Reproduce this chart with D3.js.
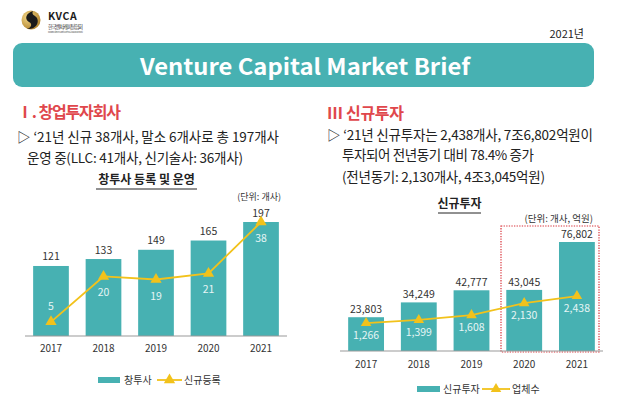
<!DOCTYPE html>
<html><head><meta charset="utf-8">
<script src="https://cdn.jsdelivr.net/npm/d3@7"></script>
<style>html,body{margin:0;padding:0;background:#fff}svg{display:block}text{font-family:"Noto Sans CJK KR","Noto Sans",sans-serif}</style>
</head><body><svg id="c" width="630" height="404"></svg>
<script>
const years = ["2017","2018","2019","2020","2021"];
const vcTotal = [121,133,149,165,197];
const vcNew = [5,20,19,21,38];
const invAmount = [23803,34249,42777,43045,76802];
const invCount = [1266,1399,1608,2130,2438];

const teal = "#47b1b2", yellow = "#f2c21b", red = "#e0474c", dark = "#222";
const svg = d3.select("#c");
svg.append("rect").attr("width",630).attr("height",404).attr("fill","#fff");

// ---- Header ----
const defs = svg.append("defs");
const g1 = defs.append("radialGradient").attr("id","gold").attr("cx","35%").attr("cy","35%").attr("r","70%");
g1.append("stop").attr("offset","0%").attr("stop-color","#f3d88a");
g1.append("stop").attr("offset","100%").attr("stop-color","#b2852e");
svg.append("circle").attr("cx",31).attr("cy",20).attr("r",9.5).attr("fill","url(#gold)");
svg.append("path").attr("d","M33,11 C26,13 24,19 29,22 C33,24 31,28 27,29 C34,30 40,24 37,18 C35,15 31,15 33,11 Z").attr("fill","#1a1a1a");
svg.append("text").attr("x",48).attr("y",20).attr("font-size",10.5).attr("font-weight",700).attr("fill","#1c1c1c").attr("letter-spacing",0.6).text("KVCA");
svg.append("text").attr("x",48).attr("y",28.5).attr("font-size",5.2).attr("fill","#333").attr("textLength",35).text("한국벤처캐피탈협회");
svg.append("text").attr("x",48).attr("y",32.5).attr("font-size",2.6).attr("fill","#666").attr("textLength",35).text("KOREA VENTURE CAPITAL ASSOCIATION");

svg.append("text").attr("x",584).attr("y",38).attr("text-anchor","end").attr("font-size",11).attr("fill",dark).text("2021년");
svg.append("rect").attr("x",13).attr("y",43).attr("width",581).attr("height",44).attr("rx",9).attr("fill",teal);
svg.append("text").attr("x",305).attr("y",74.5).attr("text-anchor","middle").attr("font-size",22).attr("font-weight",700)
  .attr("fill","#fff").attr("textLength",330).attr("lengthAdjust","spacingAndGlyphs").attr("font-family","'Noto Sans',sans-serif").text("Venture Capital Market Brief");

// ---- Section texts ----
function txt(x,y,s,opt={}){
  const t = svg.append("text").attr("x",x).attr("y",y).attr("font-size",opt.fs||14).attr("fill",opt.fill||dark)
    .attr("font-weight",opt.fw||400).attr("text-anchor",opt.anchor||"start").text(s);
  if(opt.len) t.attr("textLength",opt.len).attr("lengthAdjust","spacing");
  return t;
}
txt(17,118,"Ⅰ. 창업투자회사",{fs:16,fw:700,fill:red,len:104});
txt(17,142,"▷ ‘21년 신규 38개사, 말소 6개사로 총 197개사",{fs:13.5,len:262});
txt(27,163,"운영 중(LLC: 41개사, 신기술사: 36개사)",{fs:13.5,len:216});
txt(327,119,"Ⅲ 신규투자",{fs:16,fw:700,fill:red,len:77});
txt(327,140,"▷ ‘21년 신규투자는 2,438개사, 7조6,802억원이",{fs:13.5,len:266});
txt(342,160,"투자되어 전년동기 대비 78.4% 증가",{fs:13.5,len:192});
txt(342,182,"(전년동기: 2,130개사, 4조3,045억원)",{fs:13.5,len:203});

// ---- Chart helper ----
function chart(cfg){
  const g = svg.append("g");
  const x = d3.scaleBand().domain(years).range(cfg.xr).paddingInner(0.32).paddingOuter(0.155);
  const yb = d3.scaleLinear().domain(cfg.barDom).range(cfg.barRange);
  const yl = d3.scaleLinear().domain(cfg.lineDom).range(cfg.lineRange);
  const base = cfg.barRange[0];
  // title
  g.append("text").attr("x",cfg.title[1]).attr("y",cfg.title[2]).attr("text-anchor","middle").attr("font-size",12).attr("font-weight",700).attr("fill",dark).text(cfg.title[0]);
  const tw = cfg.title[3];
  g.append("line").attr("x1",cfg.title[1]-tw/2).attr("x2",cfg.title[1]+tw/2).attr("y1",cfg.title[2]+5).attr("y2",cfg.title[2]+5).attr("stroke",dark).attr("stroke-width",1);
  g.append("text").attr("x",cfg.unit[1]).attr("y",cfg.unit[2]).attr("text-anchor","end").attr("font-size",cfg.unit[3]).attr("fill","#333").text(cfg.unit[0]);
  if(cfg.box){
    const b = cfg.box;
    g.append("rect").attr("x",b[0]).attr("y",b[1]).attr("width",b[2]-b[0]).attr("height",b[3]-b[1]).attr("fill","none")
      .attr("stroke","#d8323a").attr("stroke-width",1.2).attr("stroke-dasharray","1.3,1.3");
  }
  // bars
  g.selectAll(".bar").data(cfg.bars).join("rect").attr("x",(d,i)=>x(years[i])).attr("width",x.bandwidth())
    .attr("y",d=>yb(d)).attr("height",d=>base-yb(d)).attr("fill",teal);
  // axis
  const ax = g.append("g").attr("transform",`translate(0,${base})`).call(d3.axisBottom(x).tickSize(0).tickPadding(0));
  ax.select(".domain").attr("stroke","#9a9a9a").attr("stroke-width",1.2).attr("d",`M${cfg.xr[0]},0H${cfg.xr[1]}`);
  ax.selectAll("text").attr("y",cfg.yearDy).attr("dy",0).attr("font-size",10).attr("fill","#333").attr("font-family","'Noto Sans',sans-serif");
  // top labels
  g.selectAll(".tl").data(cfg.bars).join("text").attr("x",(d,i)=>x(years[i])+x.bandwidth()/2).attr("y",d=>yb(d)-cfg.topOff)
    .attr("text-anchor","middle").attr("font-size",10.5).attr("fill","#333").attr("font-family","'Noto Sans',sans-serif").text(d=>d3.format(",")(d));
  // line
  const pts = cfg.line.map((d,i)=>[x(years[i])+x.bandwidth()/2, yl(d)]);
  g.append("path").attr("d",d3.line()(pts)).attr("fill","none").attr("stroke",yellow).attr("stroke-width",1.8);
  g.selectAll(".m").data(pts).join("path").attr("transform",d=>`translate(${d[0]},${d[1]})`)
    .attr("d",d3.symbol(d3.symbolTriangle,cfg.msize)).attr("fill",yellow);
  // inner labels
  g.selectAll(".il").data(cfg.line).join("text").attr("x",(d,i)=>pts[i][0])
    .attr("y",(d,i)=>{const py=pts[i][1]; return (py+cfg.inOff+5>base-2)? py-cfg.inOff+4 : py+cfg.inOff+4;})
    .attr("text-anchor","middle").attr("font-size",10.5).attr("fill","#e6f5f5").attr("font-family","'Noto Sans',sans-serif").text(d=>d3.format(",")(d));
  // legend
  const L = cfg.legend;
  g.append("rect").attr("x",L.r0).attr("y",L.y-3).attr("width",L.r1-L.r0).attr("height",6).attr("fill",teal);
  g.append("text").attr("x",L.t0).attr("y",L.y+3.5).attr("font-size",10).attr("fill","#333").text(L.n0);
  g.append("line").attr("x1",L.l0).attr("x2",L.l1).attr("y1",L.y).attr("y2",L.y).attr("stroke",yellow).attr("stroke-width",1.8);
  g.append("path").attr("transform",`translate(${(L.l0+L.l1)/2},${L.y})`).attr("d",d3.symbol(d3.symbolTriangle,cfg.msize)).attr("fill",yellow);
  g.append("text").attr("x",L.t1).attr("y",L.y+3.5).attr("font-size",10).attr("fill","#333").text(L.n1);
}

chart({
  xr:[25,287], bars:vcTotal, line:vcNew,
  barDom:[0,197], barRange:[336,222], lineDom:[0,38], lineRange:[337,222],
  title:["창투사 등록 및 운영",146.5,184,101], unit:["(단위: 개사)",281,200,9],
  yearDy:16, topOff:5.5, inOff:16, msize:55,
  legend:{y:380,r0:98,r1:120,t0:124,n0:"창투사",l0:157,l1:182,t1:184,n1:"신규등록"}
});
chart({
  xr:[340,603], bars:invAmount, line:invCount,
  barDom:[0,76802], barRange:[351,242], lineDom:[0,2500], lineRange:[352.2,294.6],
  title:["신규투자",459.5,208,43], unit:["(단위: 개사, 억원)",593,222,9.5],
  yearDy:17, topOff:4, inOff:12, msize:48, box:[501,226,599,352],
  legend:{y:389,r0:417,r1:440,t0:443,n0:"신규투자",l0:482,l1:510,t1:512,n1:"업체수"}
});
</script></body></html>
